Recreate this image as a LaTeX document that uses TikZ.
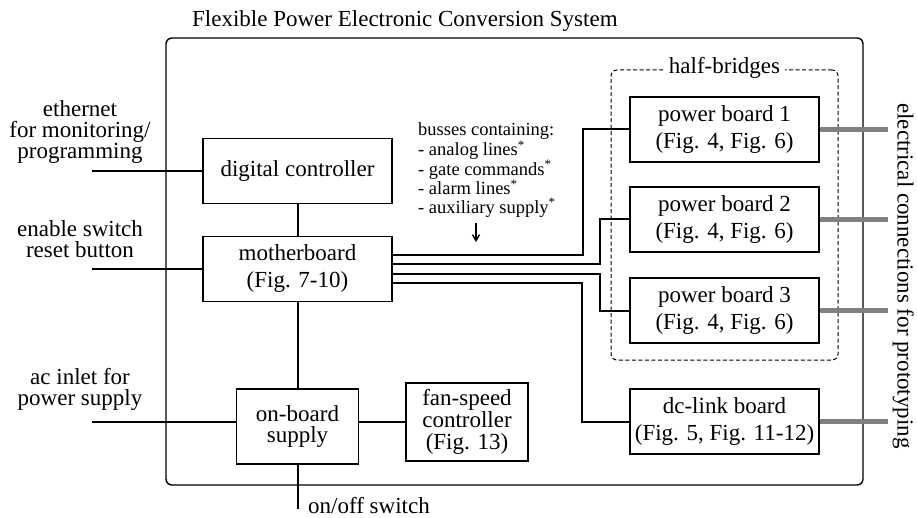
\documentclass[tikz,border=0pt]{standalone}
\usepackage{fontspec}
\setmainfont{Liberation Serif}
\usetikzlibrary{arrows.meta}
\begin{document}
\begin{tikzpicture}[x=1pt,y=-1pt,
  every node/.style={font=\fontsize{23}{27}\selectfont},
  box/.style={draw, line width=1.4pt, minimum width=189pt, minimum height=65pt, align=center, inner sep=0pt},
  conn/.style={line width=2pt},
  gconn/.style={line width=5pt, draw=gray},
  lbl/.style={align=center, inner sep=0pt, font=\fontsize{23}{21}\selectfont},
  plain/.style={inner sep=0pt}]
\useasboundingbox (0,0) rectangle (917,518);

% frames
\node[draw, line width=1.4pt, rounded corners=6pt, minimum width=697pt, minimum height=447pt, inner sep=0pt] (sys) at (514.5,261.5) {};
\node[plain, anchor=base west] (title) at (192,27) {Flexible Power Electronic Conversion System};
\node[draw, dash pattern=on 4pt off 2.5pt, line width=1pt, rounded corners=6pt, minimum width=227pt, minimum height=290pt, inner sep=0pt] (hb) at (724.5,215) {};
\node[fill=white, inner xsep=5pt, inner ysep=0pt, anchor=base] (hbl) at (724.5,74) {half-bridges};

% boxes
\node[box] (dc) at (297.5,171) {digital controller};
\node[box] (mb) at (297.5,269) {motherboard\\(Fig. 7-10)};
\node[box, minimum width=122pt, minimum height=75pt, font=\fontsize{23}{21}\selectfont] (ob) at (297.5,426.5) {on-board\\supply};
\node[box, minimum width=122pt, minimum height=78pt, font=\fontsize{23}{22}\selectfont] (fan) at (467,422) {fan-speed\\controller\\(Fig. 13)};
\node[box] (pb1) at (724.5,129.5) {power board 1\\(Fig. 4, Fig. 6)};
\node[box] (pb2) at (724.5,219.5) {power board 2\\(Fig. 4, Fig. 6)};
\node[box] (pb3) at (724.5,310.5) {power board 3\\(Fig. 4, Fig. 6)};
\node[box] (dcl) at (724.5,421.5) {dc-link board\\(Fig. 5, Fig. 11-12)};

% left labels
\node[lbl] (eth) at (80,131.7) {ethernet\\for monitoring/\\programming};
\node[lbl] (en) at (80,239) {enable switch\\reset button};
\node[lbl] (ac) at (80,389.6) {ac inlet for\\power supply};
\node[plain, anchor=base west] (oot) at (308,513) {on/off switch};

% bus note
\node[plain, anchor=north west, align=left, font=\fontsize{18.5}{18.5}\selectfont] (bus) at (418,122.5)
  {busses containing:\\- analog lines\textsuperscript{*}\\- gate commands\textsuperscript{*}\\- alarm lines\textsuperscript{*}\\- auxiliary supply\textsuperscript{*}};
\coordinate (a1) at (476,223);
\coordinate (a2) at (476,242);
\draw[line width=1.4pt, -{Straight Barb[length=6pt,width=7pt]}] (a1) -- (a2);

% right label
\node[plain, rotate=-90, anchor=base west] (ec) at (897.5,103) {electrical connections for prototyping};

% external connectors
\coordinate (e1) at (92,171);
\coordinate (e2) at (92,269);
\coordinate (e3) at (92,422);
\coordinate (oo) at (297.5,509);
\draw[conn] (e1) -- (dc.west);
\draw[conn] (e2) -- (mb.west);
\draw[conn] (e3) -- (e3 -| ob.west);
\draw[conn] (ob) -- (oo);

% internal connectors
\draw[conn] (dc) -- (mb);
\draw[conn] (mb) -- (ob);
\draw[conn] (fan.west) -- (fan.west -| ob.east);
\draw[conn] ([yshift=14.25pt]mb.east) -- ++(190,0) |- (pb1.west);
\draw[conn] ([yshift=4.75pt]mb.east) -- ++(207,0) |- (pb2.west);
\draw[conn] ([yshift=-4.75pt]mb.east) -- ++(207,0) |- (pb3.west);
\draw[conn] ([yshift=-14.25pt]mb.east) -- ++(189,0) |- (dcl.west);

% grey electrical connections
\coordinate (g1) at (888,129.5);
\coordinate (g2) at (888,219.5);
\coordinate (g3) at (888,310.5);
\coordinate (g4) at (888,421.5);
\draw[gconn] (pb1.east) -- (g1);
\draw[gconn] (pb2.east) -- (g2);
\draw[gconn] (pb3.east) -- (g3);
\draw[gconn] (dcl.east) -- (g4);
\end{tikzpicture}
\end{document}
